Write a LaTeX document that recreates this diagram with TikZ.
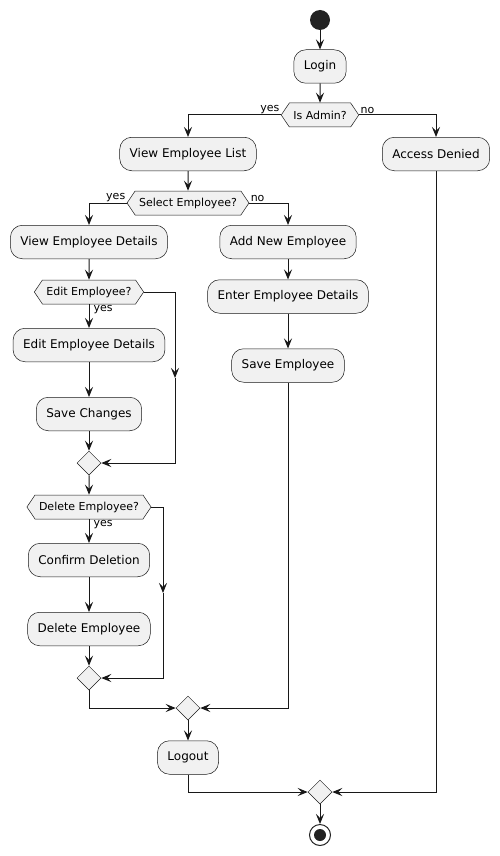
\documentclass[tikz,border=0pt]{standalone}
\usepackage{fontspec}
\setmainfont{DejaVu Sans}
\usetikzlibrary{arrows.meta,shapes.geometric,shapes.symbols}
\definecolor{umlfill}{HTML}{F1F1F1}
\definecolor{umlline}{HTML}{181818}
\definecolor{umldot}{HTML}{222222}

\begin{document}
\begin{tikzpicture}[x=1pt,y=-1pt]

      %styles of the activity diagram
      \tikzset{
      action/.style={draw=umlline, line width=0.5pt, fill=umlfill, rounded corners=12pt,
        minimum height=33.5pt, inner xsep=10pt, inner ysep=0pt, font=\fontsize{12}{14}\selectfont},
      choice/.style={draw=umlline, line width=0.5pt, fill=umlfill, signal, signal to=east and west,
        signal pointer angle=112, minimum height=24pt, inner xsep=4pt, inner ysep=0pt,
        font=\fontsize{11}{13}\selectfont},
      merge/.style={draw=umlline, line width=0.5pt, fill=umlfill, diamond,
        minimum width=24pt, minimum height=24pt, inner sep=0pt},
      flow/.style={draw=umlline, line width=1pt, -{Stealth[length=10pt,width=8pt,inset=4pt]}},
      tag/.style={font=\fontsize{11}{13}\selectfont, inner sep=1pt},
      }

      \useasboundingbox (0,0) rectangle (500,856);

      %start
      \node[circle, fill=umldot, minimum size=20pt, inner sep=0pt] (start) at (320,20) {};
      \node[action] (login) at (320,66.5) {Login};
      \node[choice] (admin) at (320,115) {Is Admin?};

      %branch#1 (admin)
      \node[action] (list) at (188,154) {View Employee List};
      \node[choice] (select) at (188,203) {Select Employee?};
      \node[action] (viewdet) at (89,242) {View Employee Details};
      \node[choice] (edit) at (89,292) {Edit Employee?};
      \node[action] (editdet) at (89,345) {Edit Employee Details};
      \node[action] (savech) at (89,414) {Save Changes};
      \node[merge] (m1) at (89,463) {};
      \node[choice] (delq) at (89,507) {Delete Employee?};
      \node[action] (confirm) at (89,560) {Confirm Deletion};
      \node[action] (delemp) at (89,629) {Delete Employee};
      \node[merge] (m2) at (89,678) {};

      %branch#2 (new employee)
      \node[action] (add) at (288,242) {Add New Employee};
      \node[action] (enter) at (288,296.5) {Enter Employee Details};
      \node[action] (saveemp) at (288,365.5) {Save Employee};
      \node[merge] (m3) at (188,708) {};
      \node[action] (logout) at (188,757.5) {Logout};

      %branch#3 (no admin)
      \node[action] (denied) at (436,154) {Access Denied};

      %end
      \node[merge] (m4) at (320,792) {};
      \node[circle, draw=umldot, line width=1pt, fill=white, minimum size=21pt, inner sep=0pt] (stop) at (320,835) {};
      \fill[umldot] (stop) circle (6pt);

      %skip arrows
      \coordinate (editSkip) at (175,378);
      \coordinate (delSkip) at (163,593);

      %flows
      \draw[flow] (start) -- (login);
      \draw[flow] (login) -- (admin);
      \draw[flow] (admin.west) node[tag, anchor=south east] {yes} -| (list.north);
      \draw[flow] (admin.east) node[tag, anchor=south west] {no} -| (denied.north);
      \draw[flow] (list) -- (select);
      \draw[flow] (select.west) node[tag, anchor=south east] {yes} -| (viewdet.north);
      \draw[flow] (select.east) node[tag, anchor=south west] {no} -| (add.north);
      \draw[flow] (viewdet) -- (edit);
      \draw[flow] (edit.south) node[tag, anchor=north west, xshift=3pt] {yes} -- (editdet.north);
      \draw[flow] (editdet) -- (savech);
      \draw[flow] (savech) -- (m1);
      \draw[flow] (edit.east) -| (editSkip);
      \draw[flow] (editSkip) |- (m1.east);
      \draw[flow] (m1) -- (delq);
      \draw[flow] (delq.south) node[tag, anchor=north west, xshift=3pt] {yes} -- (confirm.north);
      \draw[flow] (confirm) -- (delemp);
      \draw[flow] (delemp) -- (m2);
      \draw[flow] (delq.east) -| (delSkip);
      \draw[flow] (delSkip) |- (m2.east);
      \draw[flow] (m2.south) |- (m3.west);
      \draw[flow] (add) -- (enter);
      \draw[flow] (enter) -- (saveemp);
      \draw[flow] (saveemp.south) |- (m3.east);
      \draw[flow] (m3) -- (logout);
      \draw[flow] (logout.south) |- (m4.west);
      \draw[flow] (denied.south) |- (m4.east);
      \draw[flow] (m4) -- (stop);
    \end{tikzpicture}
\end{document}
